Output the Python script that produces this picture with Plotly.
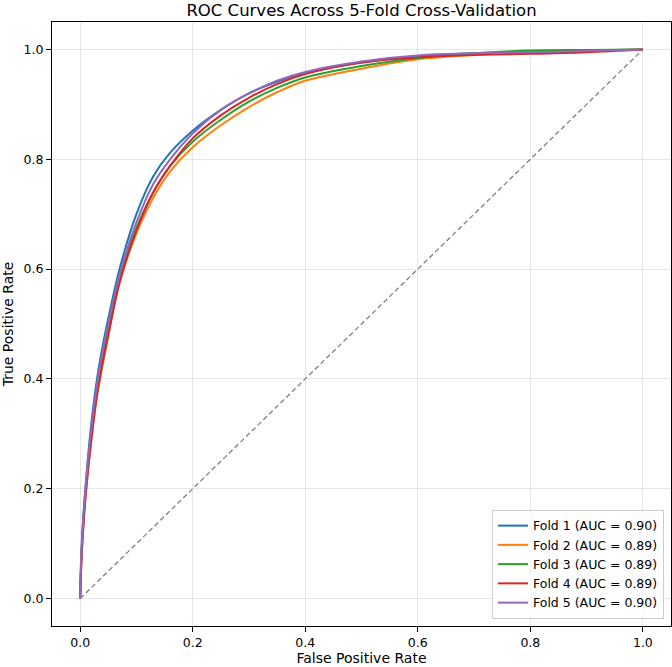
import plotly.graph_objects as go

# ---- data ----
fpr = [0, 0.002, 0.005, 0.01, 0.02, 0.03, 0.04, 0.05, 0.07, 0.1, 0.13, 0.16,
       0.2, 0.25, 0.3, 0.35, 0.4, 0.5, 0.6, 0.7, 0.8, 0.9, 1.0]

tpr_fold1 = [0, 0.08, 0.14, 0.21, 0.32, 0.40, 0.46, 0.51, 0.60, 0.70, 0.769, 0.812,
             0.852, 0.89, 0.92, 0.941, 0.957, 0.976, 0.988, 0.993, 0.996, 0.998, 1.0]
tpr_fold2 = [0, 0.06, 0.12, 0.19, 0.29, 0.37, 0.425, 0.478, 0.575, 0.665, 0.73, 0.778,
             0.822, 0.862, 0.895, 0.922, 0.943, 0.965, 0.982, 0.990, 0.995, 0.998, 1.0]
tpr_fold3 = [0, 0.07, 0.13, 0.20, 0.30, 0.38, 0.44, 0.49, 0.585, 0.675, 0.74, 0.788,
             0.832, 0.872, 0.905, 0.93, 0.949, 0.970, 0.984, 0.993, 0.998, 0.999, 1.0]
tpr_fold4 = [0, 0.06, 0.12, 0.19, 0.29, 0.37, 0.43, 0.48, 0.575, 0.67, 0.74, 0.788,
             0.838, 0.88, 0.912, 0.937, 0.955, 0.976, 0.986, 0.990, 0.992, 0.995, 1.0]
tpr_fold5 = [0, 0.075, 0.135, 0.205, 0.31, 0.39, 0.45, 0.50, 0.59, 0.685, 0.755, 0.80,
             0.847, 0.89, 0.92, 0.943, 0.959, 0.978, 0.989, 0.993, 0.995, 0.997, 1.0]

fold_names = ["Fold 1", "Fold 2", "Fold 3", "Fold 4", "Fold 5"]
fold_auc = [0.90, 0.89, 0.89, 0.89, 0.90]
fold_tprs = [tpr_fold1, tpr_fold2, tpr_fold3, tpr_fold4, tpr_fold5]
colors = ["#1f77b4", "#ff7f0e", "#2ca02c", "#d62728", "#9467bd"]

chance = [0, 1]

FONT = "DejaVu Sans"

fig = go.Figure()

fig.add_trace(go.Scatter(
    x=chance, y=chance, mode="lines", showlegend=False, hoverinfo="skip",
    line=dict(color="#808080", width=1.3, dash="5px,3px"),
))

for name, auc, tpr, col in zip(fold_names, fold_auc, fold_tprs, colors):
    fig.add_trace(go.Scatter(
        x=fpr, y=tpr, mode="lines",
        name=f"{name} (AUC = {auc:.2f})",
        line=dict(color=col, width=2, shape="spline", smoothing=1.0),
    ))

axis_common = dict(
    showline=True, linecolor="black", linewidth=1, mirror=True,
    ticks="outside", ticklen=5, tickwidth=1, tickcolor="black",
    showgrid=True, gridcolor="rgba(176,176,176,0.3)", gridwidth=1,
    zeroline=False, tickformat=".1f", dtick=0.2, tick0=0,
    tickfont=dict(family=FONT, size=12.5, color="black"),
    title_font=dict(family=FONT, size=14, color="black"),
)

fig.update_xaxes(range=[-0.05, 1.05], title_text="False Positive Rate",
                 title_standoff=3, **axis_common)
fig.update_yaxes(range=[-0.05, 1.05], title_text="True Positive Rate",
                 title_standoff=7, **axis_common)

fig.update_layout(
    width=672, height=667,
    margin=dict(l=52, r=1, t=22, b=41),
    plot_bgcolor="white", paper_bgcolor="white",
    font=dict(family=FONT, color="black"),
    title=dict(text="ROC Curves Across 5-Fold Cross-Validation",
               font=dict(family=FONT, size=16.5, color="black"),
               x=0.5, xref="paper", xanchor="center",
               y=1 - 10 / 667, yref="container", yanchor="middle"),
    legend=dict(
        x=0.9887, y=0.0116, xanchor="right", yanchor="bottom",
        bgcolor="rgba(255,255,255,0.8)", bordercolor="#cccccc", borderwidth=1,
        font=dict(family=FONT, size=12.5, color="black"),
        itemwidth=30, tracegroupgap=0,
    ),
)

fig.write_html("out.html")
